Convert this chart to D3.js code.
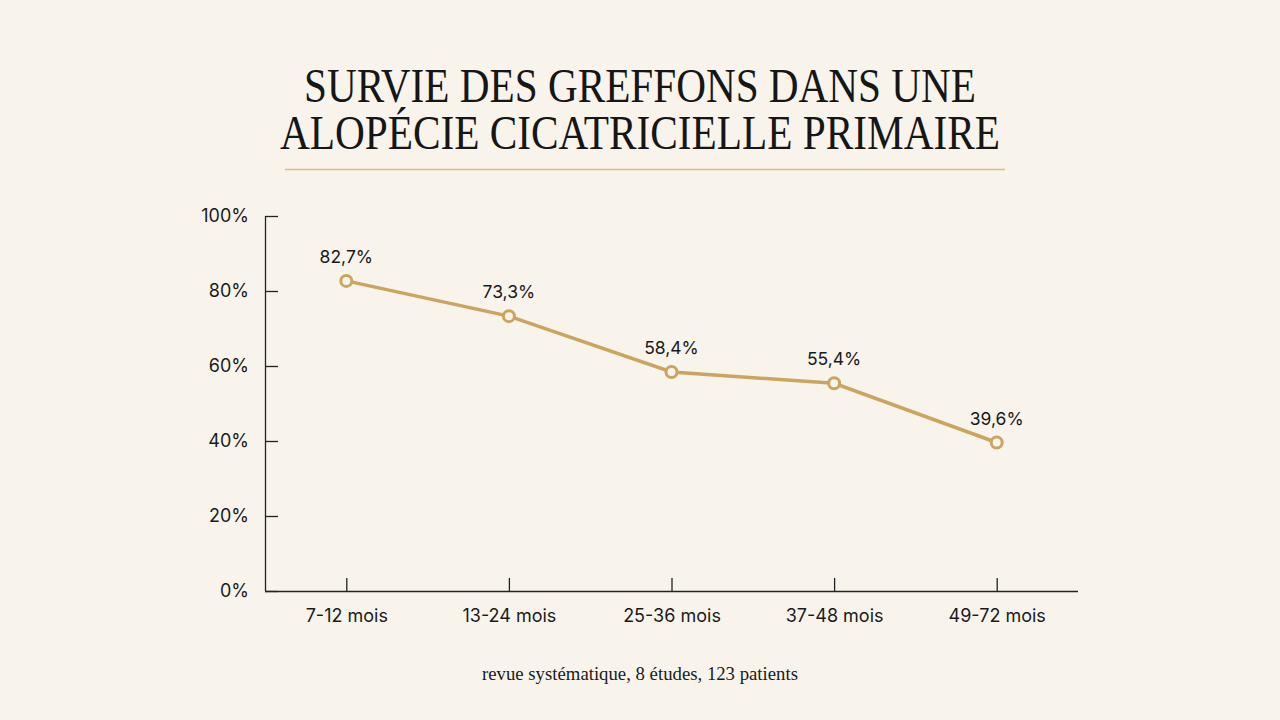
<!DOCTYPE html>
<html>
<head>
<meta charset="utf-8">
<script src="https://cdn.jsdelivr.net/npm/d3@7"></script>
<style>
  body { margin: 0; background: #f8f4ec; }
  svg { display: block; }
</style>
</head>
<body>
<div id="chart"></div>
<script>
// data
var periods = ["7-12 mois", "13-24 mois", "25-36 mois", "37-48 mois", "49-72 mois"];
var survival = [82.7, 73.3, 58.4, 55.4, 39.6];
var y_ticks = [0, 20, 40, 60, 80, 100];

var chart_width = 1280;
var chart_height = 720;
var gold = "#c9a55f";
var bg = "#f8f4ec";

var svg = d3.select("#chart")
    .append("svg")
    .attr("width", chart_width)
    .attr("height", chart_height);

svg.append("rect")
    .attr("width", chart_width)
    .attr("height", chart_height)
    .attr("fill", bg);

// title (serif, squeezed to look condensed)
var title_lines = ["SURVIE DES GREFFONS DANS UNE", "ALOPÉCIE CICATRICIELLE PRIMAIRE"];
var title_widths = [672, 720];
svg.selectAll(".title")
    .data(title_lines)
    .enter()
    .append("text")
    .attr("class", "title")
    .attr("x", 640)
    .attr("y", function(d, i){ return 102 + i * 47; })
    .attr("text-anchor", "middle")
    .attr("font-family", "'Liberation Serif', serif")
    .attr("font-size", 48)
    .attr("fill", "#161616")
    .attr("textLength", function(d, i){ return title_widths[i]; })
    .attr("lengthAdjust", "spacingAndGlyphs")
    .text(function(d){ return d; });

svg.append("line")
    .attr("x1", 285).attr("x2", 1005)
    .attr("y1", 169.5).attr("y2", 169.5)
    .attr("stroke", "#d9bc80")
    .attr("stroke-width", 1.3);

// scales
var x = d3.scalePoint()
    .domain(periods)
    .range([265, 1078])
    .padding(0.5);

var y = d3.scaleLinear()
    .domain([0, 100])
    .range([591, 216]);

// y axis
var yAxis = d3.axisRight(y)
    .tickValues(y_ticks)
    .tickSize(13)
    .tickFormat(function(d){ return d + "%"; });

var gy = svg.append("g")
    .attr("transform", "translate(265,0)")
    .call(yAxis);
gy.select(".domain").attr("stroke", "#222").attr("stroke-width", 1.3).attr("d", "M0.5,216V591");
gy.selectAll(".tick line").attr("stroke", "#222").attr("stroke-width", 1.3);
gy.selectAll(".tick text")
    .attr("x", -16)
    .attr("text-anchor", "end")
    .attr("font-family", "Inter, 'Noto Sans', sans-serif")
    .attr("font-size", 18)
    .attr("fill", "#1a1a1a");

// x axis
var xAxis = d3.axisBottom(x)
    .tickSize(-13)
    .tickPadding(0);

var gx = svg.append("g")
    .attr("transform", "translate(0,591)")
    .call(xAxis);
gx.select(".domain").attr("stroke", "#222").attr("stroke-width", 1.3).attr("d", "M265,0.5H1078");
gx.selectAll(".tick line").attr("stroke", "#222").attr("stroke-width", 1.3);
gx.selectAll(".tick text")
    .attr("y", 18)
    .attr("font-family", "Inter, 'Noto Sans', sans-serif")
    .attr("font-size", 18)
    .attr("fill", "#1a1a1a");

// line
var line = d3.line()
    .x(function(d, i){ return x(periods[i]); })
    .y(function(d){ return y(d); });

svg.append("path")
    .datum(survival)
    .attr("d", line)
    .attr("fill", "none")
    .attr("stroke", gold)
    .attr("stroke-width", 3.5);

svg.selectAll(".dot")
    .data(survival)
    .enter()
    .append("circle")
    .attr("class", "dot")
    .attr("cx", function(d, i){ return x(periods[i]); })
    .attr("cy", function(d){ return y(d); })
    .attr("r", 5.5)
    .attr("fill", bg)
    .attr("stroke", gold)
    .attr("stroke-width", 3);

svg.selectAll(".val")
    .data(survival)
    .enter()
    .append("text")
    .attr("class", "val")
    .attr("x", function(d, i){ return x(periods[i]); })
    .attr("y", function(d){ return y(d) - 18; })
    .attr("text-anchor", "middle")
    .attr("font-family", "Inter, 'Noto Sans', sans-serif")
    .attr("font-size", 17.5)
    .attr("fill", "#1a1a1a")
    .text(function(d){ return d.toFixed(1).replace(".", ",") + "%"; });

// footnote
svg.append("text")
    .attr("x", 640)
    .attr("y", 680)
    .attr("text-anchor", "middle")
    .attr("font-family", "'Liberation Serif', serif")
    .attr("font-size", 19)
    .attr("fill", "#1a1a1a")
    .attr("textLength", 316)
    .attr("lengthAdjust", "spacingAndGlyphs")
    .text("revue systématique, 8 études, 123 patients");
</script>
</body>
</html>
